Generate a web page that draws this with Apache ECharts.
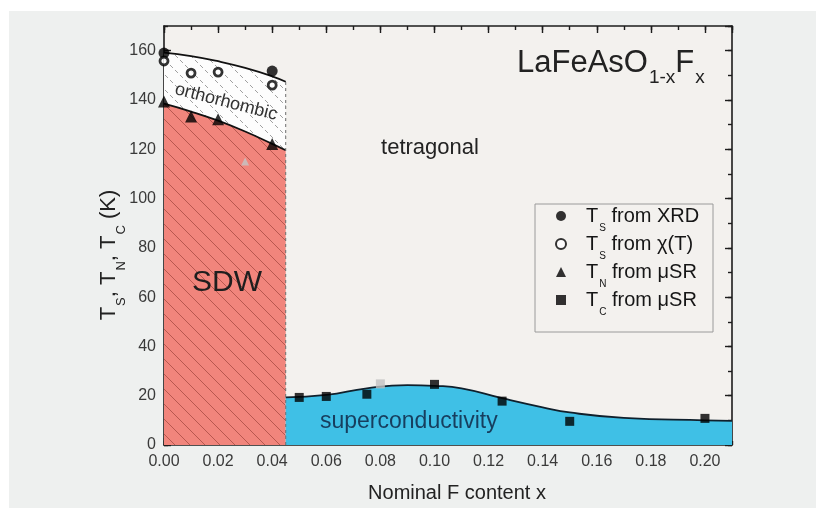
<!DOCTYPE html>
<html>
<head>
<meta charset="utf-8">
<style>
  html, body { margin: 0; padding: 0; background: #fff; }
  #wrap { position: relative; width: 816px; height: 508px; }
  #panel { position: absolute; left: 9px; top: 11px; right: 0; bottom: 0; background: #eef0ef; }
  #chart { position: absolute; left: 0; top: 0; width: 816px; height: 508px; }
</style>
<script src="https://cdn.jsdelivr.net/npm/echarts@6/dist/echarts.min.js"></script>
</head>
<body>
<div id="wrap"><div id="panel"></div><div id="chart"></div></div>
<script>
var FONT = '"Liberation Sans", Arial, sans-serif';
var X_MAX = 0.21, Y_MAX = 170;

// phase boundaries
var tsLine = [[0, 159.2], [0.01, 157.8], [0.02, 155.7], [0.03, 153], [0.04, 149.6], [0.045, 147.4]];
var tnLine = [[0, 138.5], [0.01, 135.3], [0.02, 131.6], [0.03, 127.2], [0.04, 122.2], [0.045, 119.6]];
var tcLine = [[0.045, 19.3], [0.06, 20.3], [0.075, 23], [0.09, 24.3], [0.1, 24], [0.11, 23],
              [0.125, 19], [0.14, 15.3], [0.15, 13.2], [0.17, 11], [0.2, 10], [0.21, 9.8]];
var sdwEdge = [[0.045, 0], [0.045, 147.4]];

// measured points
var tsXrd = [[0, 159], [0.04, 151.7]];
var tsChi = [[0, 155.8], [0.01, 150.9], [0.02, 151.3], [0.04, 146]];
var tnMusr = [[0, 139.4], [0.01, 133.3], [0.02, 132.2], [0.04, 122.1]];
var tcMusr = [[0.05, 19.3], [0.06, 19.7], [0.075, 20.6], [0.10, 24.6], [0.125, 17.8], [0.15, 9.6], [0.20, 10.8]];
var grayTri = [[0.03, 115]];
var graySq = [[0.08, 24.8]];

var legendNames = ['xrd', 'chi', 'tn', 'tc'];
var legendText = {
  xrd: '{m|T}{s|S}{m| from XRD}',
  chi: '{m|T}{s|S}{m| from \u03c7(T)}',
  tn: '{m|T}{s|N}{m| from \u03bcSR}',
  tc: '{m|T}{s|C}{m| from \u03bcSR}'
};

function hatch(bg, stroke, dash) {
  var s = 15, c = document.createElement('canvas');
  c.width = s; c.height = s;
  var g = c.getContext('2d');
  g.fillStyle = bg;
  g.fillRect(0, 0, s, s);
  g.strokeStyle = stroke;
  g.lineWidth = 1;
  if (dash) g.setLineDash(dash);
  [-s, 0, s].forEach(function (k) {
    g.beginPath();
    g.moveTo(0, k);
    g.lineTo(s, s + k);
    g.stroke();
  });
  return {image: c, repeat: 'repeat'};
}

function axis(dim, pos, step, tickLen, major) {
  var labels = major && (pos === 'bottom' || pos === 'left');
  return {
    type: 'value', position: pos, min: 0, max: dim === 'x' ? X_MAX : Y_MAX, interval: step,
    axisLine: {show: major, onZero: false, lineStyle: {color: '#1c1c1c', width: 1.6}},
    axisTick: {inside: true, length: tickLen, lineStyle: {color: '#1c1c1c', width: 1.4}},
    axisLabel: {
      show: labels, showMaxLabel: false, color: '#3a3a3a', fontSize: 16, fontFamily: FONT,
      margin: dim === 'x' ? 9 : 8,
      formatter: function (v) { return dim === 'x' ? v.toFixed(2) : String(v); }
    },
    splitLine: {show: false}
  };
}

var chart = echarts.init(document.getElementById('chart'));

chart.setOption({
  backgroundColor: 'transparent',
  animation: false,
  grid: {left: 164, right: 84, top: 26, bottom: 63, show: true, backgroundColor: '#f3f1ee',
         borderWidth: 0, containLabel: false, outerBoundsMode: 'none'},
  xAxis: [axis('x', 'bottom', 0.02, 7, true), axis('x', 'bottom', 0.01, 4, false),
          axis('x', 'top', 0.02, 7, true), axis('x', 'top', 0.01, 4, false)],
  yAxis: [axis('y', 'left', 20, 7, true), axis('y', 'left', 10, 4, false),
          axis('y', 'right', 20, 7, true), axis('y', 'right', 10, 4, false)],
  legend: {
    data: [legendNames[0], {name: legendNames[1], itemStyle: {borderWidth: 2}}, legendNames[2], legendNames[3]],
    orient: 'vertical', left: 555, top: 206, padding: 0, itemGap: 1,
    itemWidth: 10, itemHeight: 10, selectedMode: false,
    formatter: function (n) { return legendText[n]; },
    textStyle: {
      padding: [0, 0, 0, 15],
      rich: {
        m: {fontFamily: FONT, fontSize: 20, lineHeight: 20, color: '#161616', verticalAlign: 'top'},
        s: {fontFamily: FONT, fontSize: 10, lineHeight: 10, color: '#161616', verticalAlign: 'top', padding: [17, 0, 0, 1]}
      }
    }
  },
  graphic: [
    {type: 'rect', shape: {x: 535, y: 204, width: 178, height: 128}, style: {fill: 'none', stroke: '#9a9a9a', lineWidth: 1}, z: 50},
    {type: 'text', x: 517, y: 48, z: 50, style: {
      text: '{m|LaFeAsO}{s|1-x}{m|F}{s|x}', align: 'left', verticalAlign: 'top',
      rich: {
        m: {fontFamily: FONT, fontSize: 31, lineHeight: 31, fill: '#222', verticalAlign: 'top'},
        s: {fontFamily: FONT, fontSize: 19, lineHeight: 19, fill: '#222', verticalAlign: 'top', padding: [20, 0, 0, 1]}
      }}},
    {type: 'text', x: 109, y: 255, rotation: Math.PI / 2, z: 50, style: {
      text: '{m|T}{s|S}{m|, T}{s|N}{m|, T}{s|C}{m| (K)}', align: 'center', verticalAlign: 'middle',
      rich: {
        m: {fontFamily: FONT, fontSize: 22, lineHeight: 22, fill: '#222', verticalAlign: 'top'},
        s: {fontFamily: FONT, fontSize: 13, lineHeight: 13, fill: '#222', verticalAlign: 'top', padding: [17, 0, 0, 1]}
      }}},
    {type: 'text', x: 457, y: 493, z: 50, style: {text: 'Nominal F content x', font: '20px ' + FONT, fill: '#222', align: 'center', verticalAlign: 'middle'}},
    {type: 'text', x: 226, y: 102, rotation: -0.253, z: 50, style: {text: 'orthorhombic', font: '18px ' + FONT, fill: '#333', align: 'center', verticalAlign: 'middle'}},
    {type: 'text', x: 430, y: 148, z: 50, style: {text: 'tetragonal', font: '22px ' + FONT, fill: '#222', align: 'center', verticalAlign: 'middle'}},
    {type: 'text', x: 227, y: 283, z: 50, style: {text: 'SDW', font: '30px ' + FONT, fill: '#1e1e1e', align: 'center', verticalAlign: 'middle'}},
    {type: 'text', x: 320, y: 422, z: 50, style: {text: 'superconductivity', font: '23px ' + FONT, fill: '#173e5e', align: 'left', verticalAlign: 'middle'}}
  ],
  series: [
    {type: 'line', name: 'ortho', data: tsLine, smooth: true, symbol: 'none', z: 2,
     lineStyle: {color: '#111', width: 1.8},
     areaStyle: {color: hatch('#fdfdfd', '#a0a0a0', [4.2, 2.87]), opacity: 1}},
    {type: 'line', name: 'sdw', data: tnLine, smooth: true, symbol: 'none', z: 2,
     lineStyle: {color: '#111', width: 1.8},
     areaStyle: {color: hatch('#f1857c', '#b8574f'), opacity: 1}},
    {type: 'line', name: 'sc', data: tcLine, smooth: true, symbol: 'none', z: 2,
     lineStyle: {color: '#10202c', width: 1.8},
     areaStyle: {color: '#3fc0e6', opacity: 1}},
    {type: 'line', name: 'edge', data: sdwEdge, symbol: 'none', z: 3,
     lineStyle: {color: '#6e6e6e', width: 1, type: [3, 3]}},
    {type: 'scatter', name: 'gtri', data: grayTri, symbol: 'triangle', symbolSize: 8, z: 6, itemStyle: {color: '#c6c6c6'}},
    {type: 'scatter', name: 'gsq', data: graySq, symbol: 'rect', symbolSize: 9, z: 6, itemStyle: {color: '#c2c2c2'}},
    {type: 'scatter', name: 'xrd', data: tsXrd, symbol: 'circle', symbolSize: 11, z: 6, itemStyle: {color: '#000'}},
    {type: 'scatter', name: 'chi', data: tsChi, symbol: 'circle', symbolSize: 8, z: 6,
     itemStyle: {color: '#fff', borderColor: '#000', borderWidth: 2.8}},
    {type: 'scatter', name: 'tn', data: tnMusr, symbol: 'triangle', symbolSize: 12, z: 6, itemStyle: {color: '#000'}},
    {type: 'scatter', name: 'tc', data: tcMusr, symbol: 'rect', symbolSize: 9, z: 6, itemStyle: {color: '#000'}}
  ]
});
</script>
</body>
</html>
